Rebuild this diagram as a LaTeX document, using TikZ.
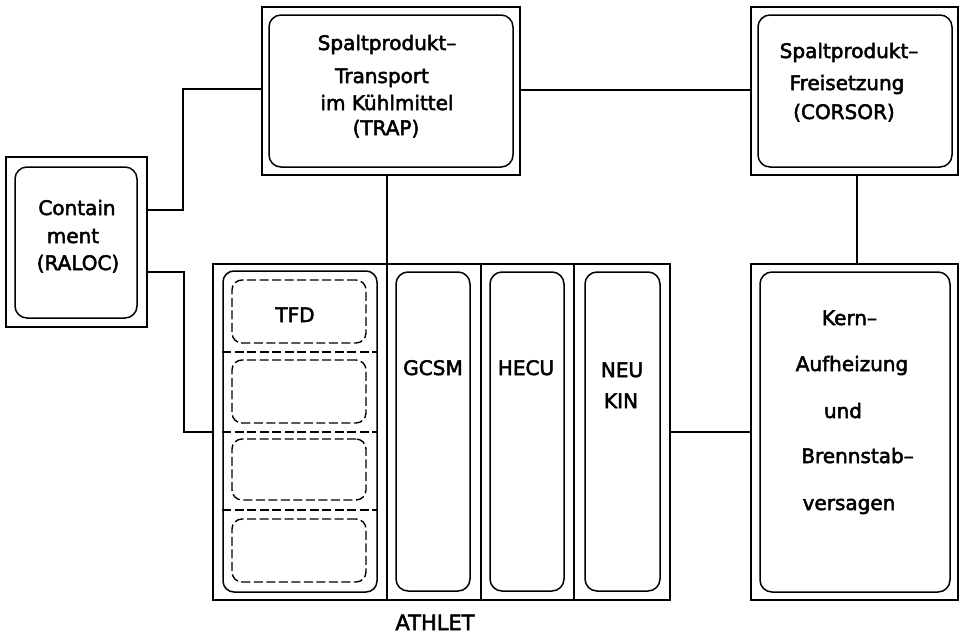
\documentclass[tikz,border=0pt]{standalone}
\usepackage{fontspec}
\setmainfont{DejaVu Sans}
\newfontfamily\lblfont{DejaVu Sans}[FakeBold=2.5]
\begin{document}
\begin{tikzpicture}[x=1pt,y=-1pt,
  outerbox/.style={draw=black, line width=2pt, inner sep=0pt},
  innerbox/.style={draw=black, line width=1.5pt, rounded corners=12pt, inner sep=0pt},
  dashbox/.style={draw=black, line width=1.4pt, rounded corners=10pt, dash pattern=on 9pt off 3.5pt, inner sep=0pt},
  conn/.style={draw=black, line width=1.6pt},
  divline/.style={draw=black, line width=1.5pt},
  dashline/.style={draw=black, line width=1.4pt, dash pattern=on 9pt off 3.5pt},
  lbl/.style={anchor=base, inner sep=0pt, font=\lblfont\fontsize{20}{24}\selectfont}]
\useasboundingbox (0,0) rectangle (964,635);
\fill[white] (0,0) rectangle (964,635);

% Containment
\node[outerbox, minimum width=141pt, minimum height=170pt] (cont) at (76.5,242) {};
\node[innerbox, minimum width=122pt, minimum height=151pt] (conti) at (76,242.5) {};
\node[lbl] (t1) at (77,215) {Contain};
\node[lbl] (t2) at (73,243) {ment};
\node[lbl] (t3) at (78,270) {(RALOC)};

% TRAP
\node[outerbox, minimum width=258pt, minimum height=168pt] (trap) at (391,91) {};
\node[innerbox, minimum width=244pt, minimum height=152pt] (trapi) at (391,91) {};
\node[lbl] (t4) at (387,50) {Spaltprodukt–};
\node[lbl] (t5) at (382,83) {Transport};
\node[lbl] (t6) at (387,110) {im Kühlmittel};
\node[lbl] (t7) at (386,135) {(TRAP)};

% CORSOR
\node[outerbox, minimum width=207pt, minimum height=168pt] (cors) at (854.5,91) {};
\node[innerbox, minimum width=194pt, minimum height=152pt] (corsi) at (855,91) {};
\node[lbl] (t8) at (849,58) {Spaltprodukt–};
\node[lbl] (t9) at (847,90) {Freisetzung};
\node[lbl] (t10) at (844,119) {(CORSOR)};

% ATHLET
\node[outerbox, line width=2.2pt, minimum width=457pt, minimum height=336pt] (ath) at (441.5,432) {};
\coordinate (d1t) at (387,264); \coordinate (d1b) at (387,600);
\coordinate (d2t) at (481,264); \coordinate (d2b) at (481,600);
\coordinate (d3t) at (574,264); \coordinate (d3b) at (574,600);
\draw[divline] (d1t) -- (d1b);
\draw[divline] (d2t) -- (d2b);
\draw[divline] (d3t) -- (d3b);

\node[innerbox, rounded corners=11pt, minimum width=154pt, minimum height=321pt] (tfdcol) at (300,431.5) {};
\node[dashbox, minimum width=134pt, minimum height=63pt] (db1) at (299,311.5) {};
\node[dashbox, minimum width=134pt, minimum height=63pt] (db2) at (299,391.5) {};
\node[dashbox, minimum width=134pt, minimum height=61pt] (db3) at (299,469.5) {};
\node[dashbox, minimum width=134pt, minimum height=63pt] (db4) at (299,550.5) {};
\draw[dashline] (tfdcol.west |- 0,352) -- (tfdcol.east |- 0,352);
\draw[dashline] (tfdcol.west |- 0,432) -- (tfdcol.east |- 0,432);
\draw[dashline] (tfdcol.west |- 0,510) -- (tfdcol.east |- 0,510);
\node[lbl] (tfd) at (295,322) {TFD};

\node[innerbox, minimum width=74pt, minimum height=319pt] (gcsm) at (433,431.5) {};
\node[innerbox, minimum width=74pt, minimum height=319pt] (hecu) at (527,431.5) {};
\node[innerbox, minimum width=75pt, minimum height=319pt] (neu) at (622.5,431.5) {};
\node[lbl] (t11) at (433,375) {GCSM};
\node[lbl] (t12) at (526,375) {HECU};
\node[lbl] (t13) at (622,377) {NEU};
\node[lbl] (t14) at (621,408) {KIN};
\node[lbl, font=\lblfont\fontsize{21}{25}\selectfont] (athl) at (435,630) {ATHLET};

% Kern
\node[outerbox, minimum width=207pt, minimum height=336pt] (kern) at (854.5,432) {};
\node[innerbox, minimum width=190pt, minimum height=320pt] (kerni) at (855,432) {};
\node[lbl] (t15) at (849.5,325) {Kern–};
\node[lbl] (t16) at (852,371) {Aufheizung};
\node[lbl] (t17) at (843,418) {und};
\node[lbl] (t18) at (857.5,463) {Brennstab–};
\node[lbl] (t19) at (849,510) {versagen};

% connectors
\coordinate (ca) at (183,210);
\coordinate (cb) at (184,272);
\draw[conn] (cont.east |- ca) -- (ca) |- (trap.west |- 0,89);
\draw[conn] (cont.east |- cb) -- (cb) |- (ath.west |- 0,432);
\draw[conn] (trap.south -| d1t) -- (d1t);
\draw[conn] (trap.east |- 0,90) -- (cors.west |- 0,90);
\draw[conn] (cors.south -| 857,0) -- (kern.north -| 857,0);
\draw[conn] (ath.east |- 0,432) -- (kern.west |- 0,432);
\end{tikzpicture}
\end{document}
